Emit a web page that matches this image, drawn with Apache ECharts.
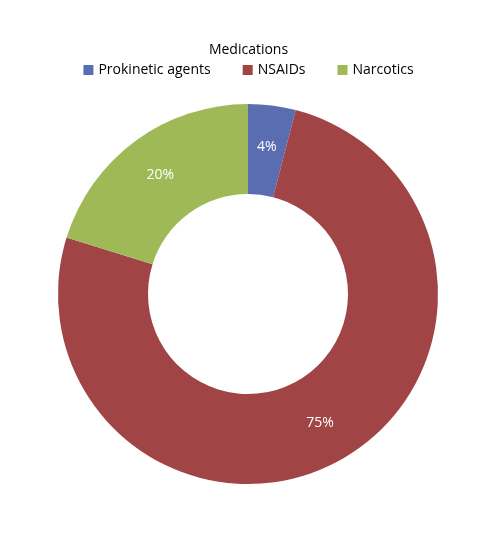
<!DOCTYPE html>
<html>
<head>
<meta charset="utf-8">
<style>
  html, body { margin: 0; padding: 0; background: #fff; }
  #chart { width: 497px; height: 535px; }
</style>
<script src="https://cdn.jsdelivr.net/npm/echarts@6/dist/echarts.min.js"></script>
</head>
<body>
<div id="chart"></div>
<script>
const categories = ["Prokinetic agents", "NSAIDs", "Narcotics"];
const shares = [4, 75, 20];
const colors = ["#5b6db1", "#a14445", "#9fb957"];

(function () {
  const myChart = echarts.init(document.getElementById("chart"));

  const data = categories.map(function (name, i) {
    return { name: name, value: shares[i], itemStyle: { color: colors[i] } };
  });

  const option = {
    textStyle: { fontFamily: "Open Sans" },
    title: {
      text: "Medications",
      left: "center",
      top: 38,
      textStyle: { fontSize: 14, fontWeight: "normal", color: "#000", fontFamily: "Open Sans" },
    },
    legend: {
      data: categories,
      top: 58,
      left: "center",
      itemWidth: 10,
      itemHeight: 10,
      itemGap: 32,
      icon: "rect",
      textStyle: { fontSize: 14, color: "#000", fontFamily: "Open Sans" },
    },
    series: [
      {
        name: "Medications",
        type: "pie",
        radius: [100, 190],
        center: [248, 294],
        startAngle: 90,
        clockwise: true,
        silent: true,
        label: {
          position: "inside",
          formatter: "{c}%",
          color: "#fff",
          fontSize: 14,
          fontFamily: "Open Sans",
        },
        labelLine: { show: false },
        itemStyle: { borderWidth: 0 },
        data: data,
      },
    ],
  };

  myChart.setOption(option);
})();
</script>
</body>
</html>
